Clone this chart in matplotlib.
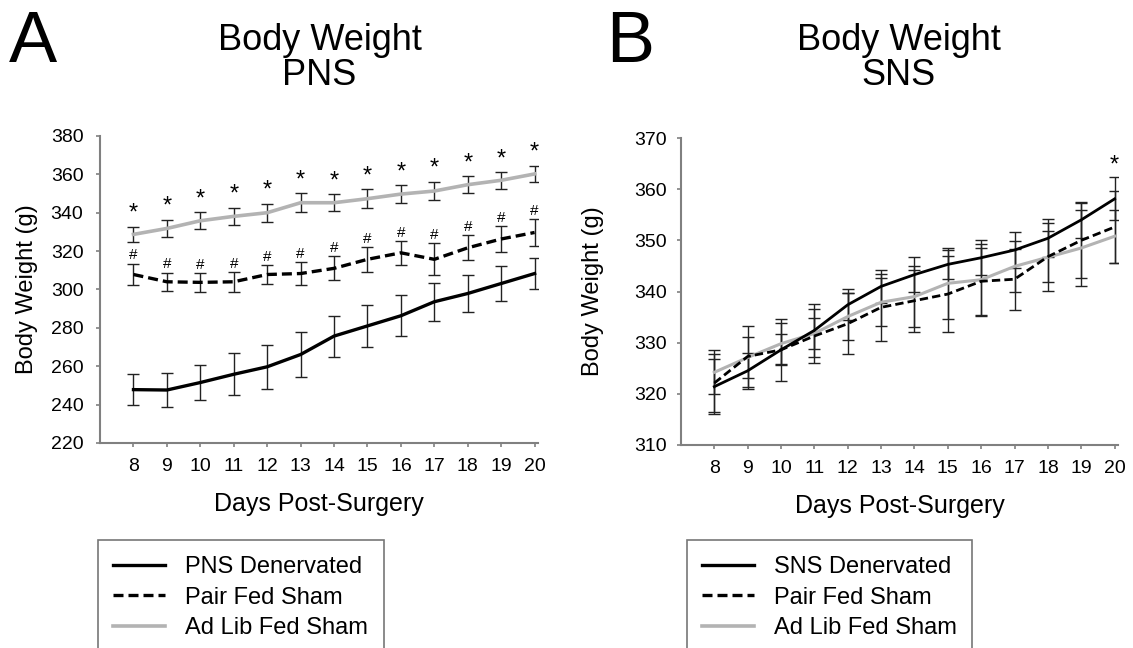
import matplotlib.pyplot as plt

plt.rcParams['font.family'] = ['Liberation Sans', 'DejaVu Sans']

days = list(range(8, 21))

# ── Panel A: PNS ─────────────────────────────────────────
pns_den = [247.8, 247.6, 251.5, 255.8, 259.7, 266.1, 275.7, 281.0, 286.3, 293.6, 297.9, 303.1, 308.3]
pns_den_err = [8.1, 8.7, 9.0, 10.9, 11.6, 11.7, 10.7, 10.9, 10.7, 9.9, 9.6, 8.9, 8.3]
pns_pair = [307.8, 304.0, 303.7, 304.0, 307.8, 308.3, 311.0, 315.7, 319.1, 315.7, 321.7, 326.3, 329.7]
pns_pair_err = [5.7, 4.8, 4.8, 5.2, 4.9, 5.8, 6.2, 6.4, 6.2, 8.3, 6.5, 6.7, 6.9]
pns_adlib = [328.7, 331.8, 335.8, 338.1, 340.0, 345.2, 345.2, 347.3, 349.7, 351.3, 354.6, 356.9, 360.2]
pns_adlib_err = [4.0, 4.5, 4.5, 4.5, 4.6, 5.0, 4.3, 5.0, 4.6, 4.9, 4.3, 4.3, 4.2]

# ── Panel B: SNS ─────────────────────────────────────────
sns_den = [321.4, 324.5, 328.6, 332.4, 337.4, 341.0, 343.3, 345.3, 346.6, 348.1, 350.4, 354.0, 358.1]
sns_den_err = [5.4, 3.5, 6.0, 5.2, 3.0, 3.2, 3.4, 2.8, 3.4, 3.5, 3.7, 3.5, 4.2]
sns_pair = [322.1, 327.3, 328.6, 331.3, 333.7, 336.9, 338.2, 339.5, 342.0, 342.4, 346.8, 350.0, 352.6]
sns_pair_err = [5.7, 6.0, 3.0, 5.3, 6.0, 6.5, 6.1, 7.4, 6.5, 6.0, 5.0, 7.3, 7.0]
sns_adlib = [324.2, 327.1, 329.8, 331.8, 335.1, 337.9, 339.0, 341.6, 342.3, 344.9, 346.7, 348.5, 350.8]
sns_adlib_err = [4.3, 4.0, 4.0, 3.0, 4.6, 4.7, 6.0, 7.0, 7.0, 5.0, 6.6, 7.4, 5.2]
sns_star_days = [20]

GRAY = '#b3b3b3'
SPINE = '#808080'

fig = plt.figure(figsize=(11.33, 6.48), dpi=100)
axA = fig.add_axes([0.0883, 0.3164, 0.3865, 0.4738])
axB = fig.add_axes([0.601, 0.3133, 0.3857, 0.4737])


def draw(ax, series, ylim, yticks, ypad, ylabelpad):
    for vals, err, color, ls, lw in series:
        ax.plot(days, vals, color=color, linestyle=ls, linewidth=lw, zorder=3)
        ax.errorbar(days, vals, yerr=err, fmt='none', ecolor='#222222',
                    elinewidth=1.0, capsize=4, capthick=1.0, zorder=2)
    ax.set_xlim(7, 20.1)
    ax.set_ylim(*ylim)
    ax.set_yticks(yticks)
    ax.set_xticks(days)
    ax.tick_params(labelsize=14, length=3, color=SPINE, width=1.2)
    ax.tick_params(axis='x', pad=8)
    ax.tick_params(axis='y', pad=ypad)
    for s in ['top', 'right']:
        ax.spines[s].set_visible(False)
    for s in ['left', 'bottom']:
        ax.spines[s].set_color(SPINE)
        ax.spines[s].set_linewidth(1.5)
    ax.set_xlabel("Days Post-Surgery", fontsize=18, labelpad=12)
    ax.set_ylabel("Body Weight (g)", fontsize=17, labelpad=ylabelpad)


draw(axA, [(pns_adlib, pns_adlib_err, GRAY, '-', 2.6),
           (pns_pair, pns_pair_err, 'black', (0, (3, 1.5)), 2.4),
           (pns_den, pns_den_err, 'black', '-', 2.4)],
     (220, 380), range(220, 381, 20), 9, 9)

draw(axB, [(sns_adlib, sns_adlib_err, GRAY, '-', 2.2),
           (sns_pair, sns_pair_err, 'black', (0, (3, 1.5)), 2.0),
           (sns_den, sns_den_err, 'black', '-', 2.0)],
     (310, 370), range(310, 371, 10), 7, 22)

# significance markers
for d, v, e in zip(days, pns_adlib, pns_adlib_err):
    axA.text(d, v + e + 1.0, '*', ha='center', va='bottom', fontsize=17)
for d, v, e in zip(days, pns_pair, pns_pair_err):
    axA.text(d, v + e + 0.6, '#', ha='center', va='bottom', fontsize=11)
for d in sns_star_days:
    i = days.index(d)
    axB.text(d, sns_den[i] + sns_den_err[i] + 0.2, '*', ha='center', va='bottom', fontsize=17)

# titles and panel letters
fig.text(0.282, 0.965, "Body Weight\nPNS", ha='center', va='top', fontsize=26, linespacing=1.0)
fig.text(0.793, 0.965, "Body Weight\nSNS", ha='center', va='top', fontsize=26, linespacing=1.0)
fig.text(0.008, 0.985, "A", ha='left', va='top', fontsize=52)
fig.text(0.535, 0.985, "B", ha='left', va='top', fontsize=52)

# legends
for ax, name, x0 in [(axA, "PNS Denervated", 0.0865), (axB, "SNS Denervated", 0.606)]:
    h1, = ax.plot([], [], color='black', linewidth=2.4)
    h2, = ax.plot([], [], color='black', linestyle=(0, (3, 1.5)), linewidth=2.4)
    h3, = ax.plot([], [], color=GRAY, linewidth=2.6)
    leg = fig.legend([h1, h2, h3], [name, "Pair Fed Sham", "Ad Lib Fed Sham"],
                     loc='upper left', bbox_to_anchor=(x0, 0.166), borderaxespad=0,
                     fontsize=17, frameon=True, fancybox=False, handlelength=2.2,
                     labelspacing=0.37, borderpad=0.65, handletextpad=0.85)
    leg.get_frame().set_edgecolor('#555555')
    leg.get_frame().set_linewidth(1.2)

plt.savefig("out.png", dpi=100)
